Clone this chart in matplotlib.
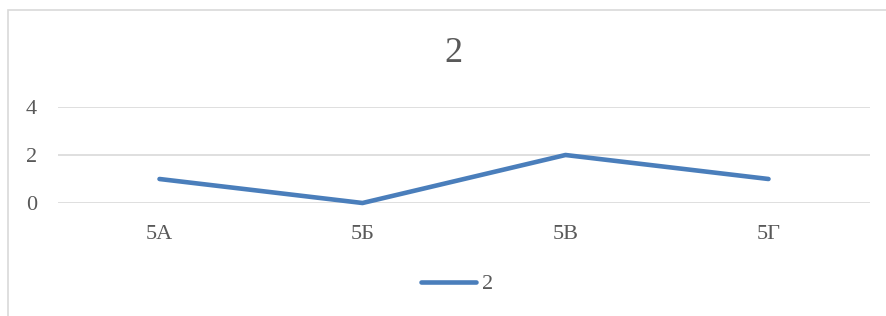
import matplotlib
matplotlib.use("Agg")
import matplotlib.pyplot as plt
from matplotlib.patches import Rectangle

categories = ["5А", "5Б", "5В", "5Г"]
values = [1, 0, 2, 1]
series_name = "2"
title = "2"
yticks = [0, 2, 4]

plt.rcParams['font.family'] = ['Liberation Serif', 'DejaVu Serif']
W, H = 886, 316
fig = plt.figure(figsize=(W/100, H/100), dpi=100)

# chart border
fig.add_artist(Rectangle((8/W, -0.1), 1.2, (H-10)/H + 0.1, transform=fig.transFigure,
                         fill=False, edgecolor="#d9d9d9", linewidth=1.2))

ax = fig.add_axes([58/W, (H-203)/H, 812/W, 96/H])
x = list(range(len(categories)))
line, = ax.plot(x, values, color="#4a7ebb", linewidth=3.3, solid_capstyle="round",
                solid_joinstyle="round", label=series_name, clip_on=False, zorder=3)
ax.set_xlim(-0.5, len(categories) - 0.5)
ax.set_ylim(0, 4)
ax.set_yticks(yticks)
ax.set_xticks(x)
ax.set_xticklabels(categories)
ax.grid(axis="y", color="#d9d9d9", linewidth=1.2)
ax.set_axisbelow(True)
for s in ax.spines.values():
    s.set_visible(False)
ax.tick_params(axis="both", length=0, labelsize=16, colors="#595959", labelcolor="#595959")
ax.tick_params(axis="y", pad=15)
ax.tick_params(axis="x", pad=16)

fig.text(453/W, 1 - 54/H, title, ha="center", va="center", fontsize=26, color="#595959")

fig.legend(handles=[line], loc="center", bbox_to_anchor=(457/W, 1 - 284/H),
           frameon=False, handlelength=2.5, handletextpad=0.25, fontsize=16,
           labelcolor="#595959")

fig.savefig("out.png", dpi=100)
